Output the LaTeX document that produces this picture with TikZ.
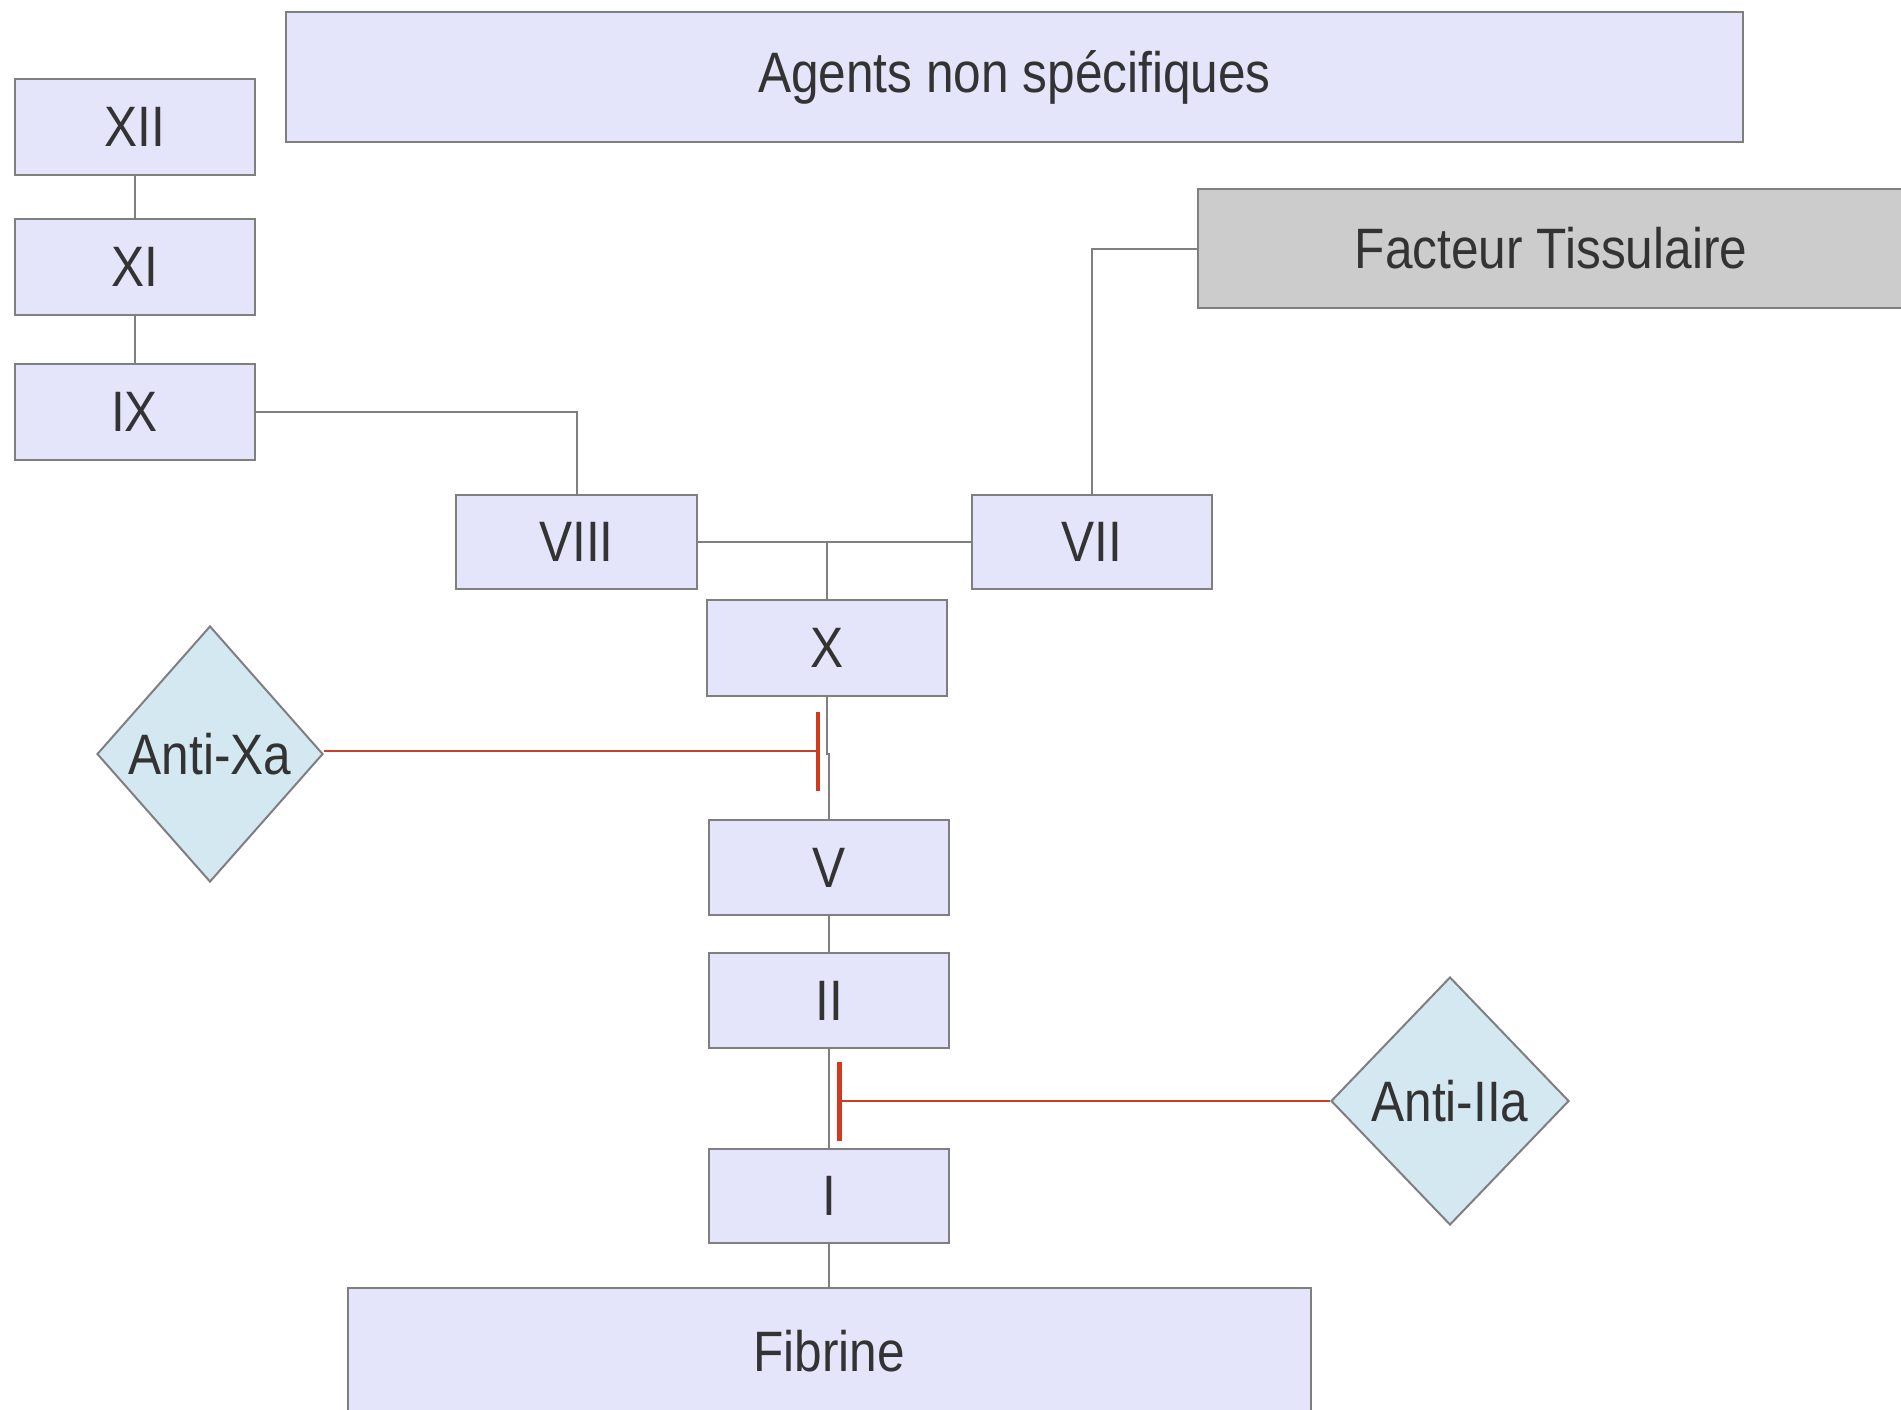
\documentclass[tikz,border=0pt]{standalone}
\usepackage{fontspec}
\setmainfont{Liberation Sans}[FakeStretch=0.87]
\usetikzlibrary{shapes.geometric,arrows.meta}
\definecolor{boxfill}{HTML}{E4E4FA}
\definecolor{tissue}{HTML}{CCCCCC}
\definecolor{drugfill}{HTML}{D4E8F1}
\definecolor{edge}{HTML}{7F7F7F}
\definecolor{ink}{HTML}{333333}
\definecolor{inhib}{HTML}{C8402A}
\definecolor{inhibbar}{HTML}{D2391E}
\tikzset{
  factor/.style={draw=edge, line width=2pt, fill=boxfill, text=ink,
    inner sep=0pt, font=\fontsize{57}{68}\selectfont},
  drug/.style={diamond, draw=edge, line width=2pt, fill=drugfill, text=ink,
    inner sep=0pt, font=\fontsize{57}{68}\selectfont},
  link/.style={draw=edge, line width=2pt},
  block/.style={draw=inhib, line width=2pt,
    -{Bar[width=79pt, line width=4.5pt, color=inhibbar]}}
}
\begin{document}
\begin{tikzpicture}[x=1pt, y=-1pt]
  \useasboundingbox (0,0) rectangle (1901,1410);
  \fill[white] (0,0) rectangle (1901,1410);

  % factors
  \node[factor, minimum width=1457pt, minimum height=130pt] (agents) at (1014.5,77) {Agents non spécifiques};
  \node[factor, minimum width=240pt, minimum height=95pt] (xii) at (134.5,127) {XII};
  \node[factor, minimum width=240pt, minimum height=96pt] (xi) at (134.5,267) {XI};
  \node[factor, minimum width=240pt, minimum height=96pt] (ix) at (134.5,412) {IX};
  \node[factor, fill=tissue, minimum width=706pt, minimum height=119pt] (ft) at (1551,248.5) {Facteur Tissulaire};
  \node[factor, minimum width=241pt, minimum height=94pt] (viii) at (576.5,542) {VIII};
  \node[factor, minimum width=240pt, minimum height=94pt] (vii) at (1092,542) {VII};
  \node[factor, minimum width=240pt, minimum height=96pt] (x) at (827,648) {X};
  \node[factor, minimum width=240pt, minimum height=95pt] (v) at (829,867.5) {V};
  \node[factor, minimum width=240pt, minimum height=95pt] (ii) at (829,1000.5) {II};
  \node[factor, minimum width=240pt, minimum height=94pt] (i) at (829,1196) {I};
  % the Fibrine box runs past the lower edge of the page
  \node[factor, minimum width=963pt, minimum height=140pt] (fib) at (829,1358) {\raisebox{15pt}{Fibrine}};

  % inhibitors
  \node[drug, minimum width=226pt, minimum height=256pt] (axa) at (210,754) {Anti-Xa};
  \node[drug, minimum width=238pt, minimum height=248pt] (aiia) at (1450,1101) {Anti-IIa};

  % cascade links
  \draw[link] (xii.south) -- (xi.north);
  \draw[link] (xi.south) -- (ix.north);
  \draw[link] (ix.east) -| (viii.north);
  \draw[link] (vii.north) |- (ft.west);
  \coordinate (join) at (827,542);
  \draw[link] (viii.east) -- (vii.west);
  \draw[link] (join) -- (x.north);
  \coordinate (jog) at (827,754);
  \draw[link] (x.south) -- (jog) -| (v.north);
  \draw[link] (v.south) -- (ii.north);
  \draw[link] (ii.south) -- (i.north);
  \draw[link] (i.south) -- (fib.north);

  % inhibition
  \coordinate (barxa) at (820,751);
  \coordinate (bariia) at (837,1101);
  \draw[block] (axa.east |- barxa) -- (barxa);
  \draw[block] (aiia.west) -- (bariia);
\end{tikzpicture}
\end{document}
